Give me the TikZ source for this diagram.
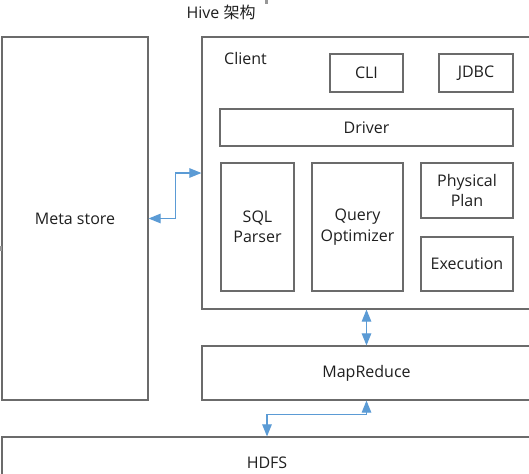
\documentclass[tikz,border=0pt]{standalone}
\usepackage{fontspec}
\setmainfont{Open Sans}
\newfontfamily\cjk{Noto Sans CJK SC}
\usepackage{tikz}
\usetikzlibrary{arrows.meta}
\definecolor{boxline}{HTML}{6B6B6B}
\definecolor{linkblue}{HTML}{5B9BD5}
\definecolor{txt}{HTML}{1F1F1F}
\tikzstyle{box} = [rectangle, draw=boxline, line width=1.2pt, fill=white, text=txt, align=center, inner sep=0pt]
\tikzstyle{biarrow} = [draw=linkblue, line width=1.1pt, {Triangle[length=12pt, width=9.5pt]}-{Triangle[length=12pt, width=9.5pt]}, linkblue]

\begin{document}
\begin{tikzpicture}[x=1pt, y=-1pt, font=\fontsize{16}{20.5}\selectfont]
\useasboundingbox (0,0) rectangle (529,473);
\clip (0,0) rectangle (529,473);
\fill [white] (0,0) rectangle (529,473);

\node (title) [text=txt, inner sep=0pt] at (221,12) {Hive {\cjk 架构}};

\node (meta) [box, minimum width=146, minimum height=363] at (75,218.5) {Meta store};
\node (client) [box, minimum width=329, minimum height=272] at (366.5,173) {};
\node (clientlbl) [text=txt, anchor=west, inner sep=0pt] at (224,59) {Client};
\node (cli) [box, minimum width=73, minimum height=38] at (366.5,73) {CLI};
\node (jdbc) [box, minimum width=74, minimum height=38] at (476,73) {JDBC};
\node (driver) [box, minimum width=293, minimum height=37] at (366.5,127.5) {Driver};
\node (sql) [box, minimum width=73, minimum height=128] at (257.5,227) {SQL\\Parser};
\node (qopt) [box, minimum width=91, minimum height=128] at (357.5,227) {Query\\Optimizer};
\node (plan) [box, minimum width=92, minimum height=55] at (467,190.5) {Physical\\Plan};
\node (exec) [box, minimum width=92, minimum height=54] at (467,264) {Execution};
\node (mapred) [box, minimum width=329, minimum height=54] at (366.5,373) {MapReduce};
\node (hdfs) [box, minimum width=530, minimum height=52] at (267,463) {HDFS};

\draw [biarrow] (meta.east) -- ++(27,0) |- (client.west);
\draw [biarrow] (client.south) -- (mapred.north);
\draw [biarrow] (mapred.south) -- ++(0,14) -| (hdfs.north);

% selection handles
\fill [boxline!70] (265,0) rectangle (268,4);
\fill [boxline!70] (0,246) rectangle (2,251);

\end{tikzpicture}
\end{document}
